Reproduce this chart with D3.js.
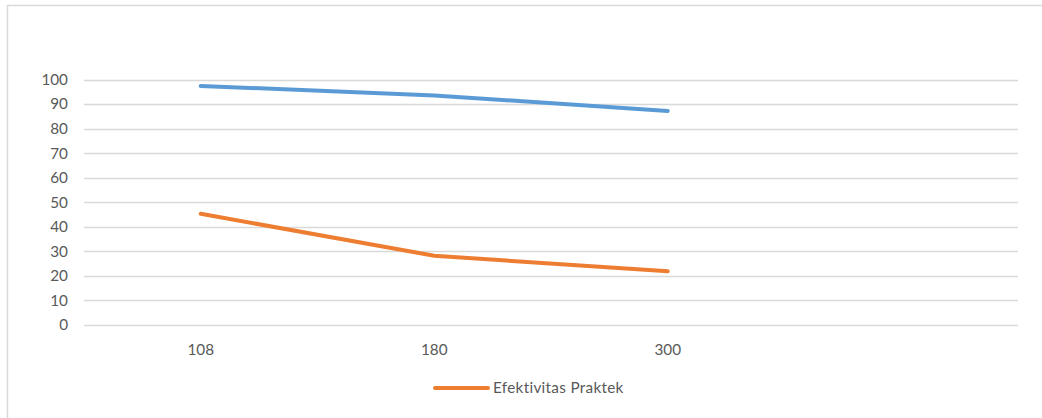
<!DOCTYPE html>
<html>
<head>
<meta charset="utf-8">
<script src="https://cdn.jsdelivr.net/npm/d3@7"></script>
<style>
  html, body { margin: 0; padding: 0; background: #fff; }
  svg { display: block; }
  text { font-variant-ligatures: none; font-feature-settings: "liga" 0; }
</style>
</head>
<body>
<svg id="chart" width="1042" height="418"></svg>
<script>
// Categories along the x axis (the last slot is left empty)
const categories = ["108", "180", "300", ""];
// Series values
const teoriValues = [97.4, 93.5, 87.2];
const praktekValues = [45.3, 28.2, 21.9];
// Series names
const teoriName = "Efektivitas Teori";
const praktekName = "Efektivitas Praktek";
// Y tick values
const yTicks = [0, 10, 20, 30, 40, 50, 60, 70, 80, 90, 100];

const svg = d3.select("#chart");
const W = 1042, H = 418;
const plot = { left: 84, right: 1018, top: 79.5, bottom: 325 };
const textColor = "#595959";
const gridColor = "#d9d9d9";
const font = "Lato, 'Open Sans', sans-serif";
const fontSize = "15.3px";

// Chart frame
svg.append("rect")
  .attr("x", 7.5).attr("y", 5.5)
  .attr("width", W).attr("height", H)
  .attr("fill", "#fff").attr("stroke", gridColor).attr("stroke-width", 1.5);

const x = d3.scaleBand().domain(categories.map((c, i) => i))
  .range([plot.left, plot.right]).paddingInner(0).paddingOuter(0);
const y = d3.scaleLinear().domain([0, 100]).range([plot.bottom, plot.top]);

// Horizontal gridlines
svg.append("g").selectAll("line").data(yTicks).join("line")
  .attr("x1", plot.left).attr("x2", plot.right)
  .attr("y1", d => Math.round(y(d)) + 0.5).attr("y2", d => Math.round(y(d)) + 0.5)
  .attr("stroke", gridColor).attr("stroke-width", 1.3);

// Y axis labels
const yAxis = d3.axisLeft(y).tickValues(yTicks).tickSize(0).tickPadding(0);
const gy = svg.append("g").attr("transform", "translate(68,0)").call(yAxis);
gy.select(".domain").remove();
gy.selectAll("text").attr("fill", textColor)
  .style("font-family", font).style("font-size", fontSize);

// X axis labels
const xAxis = d3.axisBottom(x).tickFormat(i => categories[i]).tickSize(0).tickPadding(0);
const gx = svg.append("g").attr("transform", "translate(0,349.5)").call(xAxis);
gx.select(".domain").remove();
gx.selectAll("text").attr("dy", "0.35em").attr("y", 0).attr("fill", textColor)
  .style("font-family", font).style("font-size", fontSize);

const cx = i => x(i) + x.bandwidth() / 2;
const line = d3.line().x((d, i) => cx(i)).y(d => y(d));

const series = [
  { name: teoriName, values: teoriValues, color: "#5B9BD5" },
  { name: praktekName, values: praktekValues, color: "#ED7D31" }
];

svg.append("g").selectAll("path").data(series).join("path")
  .attr("d", d => line(d.values))
  .attr("fill", "none")
  .attr("stroke", d => d.color)
  .attr("stroke-width", 4)
  .attr("stroke-linecap", "round")
  .attr("stroke-linejoin", "round");

// Legend (only the practical series is listed)
const lg = svg.append("g").attr("transform", "translate(435,388)");
lg.append("line").attr("x1", 0).attr("x2", 53).attr("y1", 0).attr("y2", 0)
  .attr("stroke", series[1].color).attr("stroke-width", 4).attr("stroke-linecap", "round");
lg.append("text").attr("x", 58).attr("y", 0).attr("dy", "0.35em")
  .attr("fill", textColor).style("font-family", font).style("font-size", fontSize)
  .style("letter-spacing", "0.3px")
  .text(praktekName);
</script>
</body>
</html>
